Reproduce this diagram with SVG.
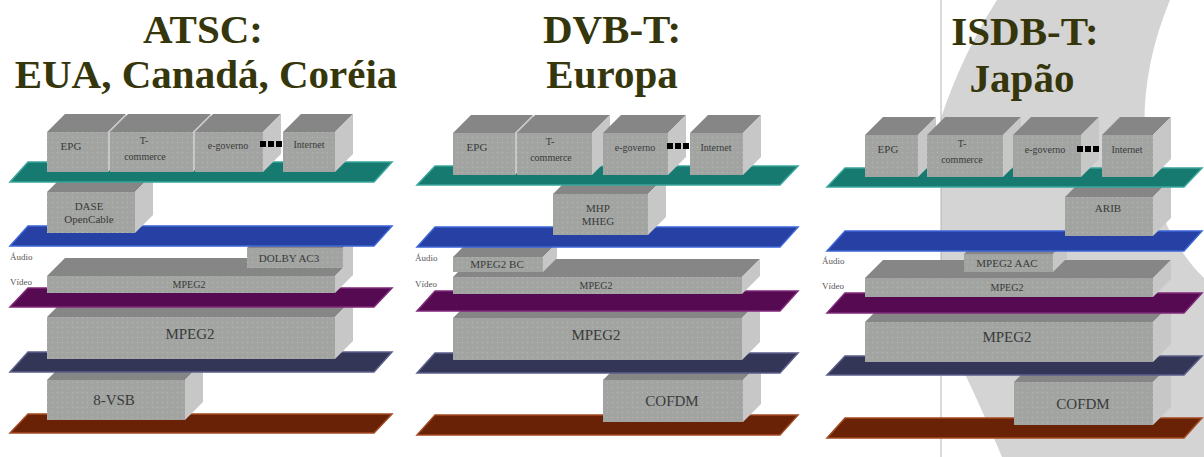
<svg xmlns="http://www.w3.org/2000/svg" width="1204" height="457" viewBox="0 0 1204 457">
<defs>
<pattern id="dots" width="5" height="5" patternUnits="userSpaceOnUse">
<rect width="5" height="5" fill="#a1a4a1"/>
<circle cx="2.5" cy="2.5" r="0.7" fill="#b4b6b4"/>
</pattern>
<style>
.front{fill:url(#dots);}
.top{fill:#858685;}
.side{fill:#c6c7c6;}
.t{font-family:"Liberation Serif","Times New Roman",serif;fill:#3a3a3a;text-anchor:middle;}
.s10{font-size:10px;}
.s11{font-size:11px;}
.s12{font-size:12px;}
.s15{font-size:15px;}
.lbl{font-family:"Liberation Serif","Times New Roman",serif;font-size:9px;fill:#555;}
.title{font-family:"Liberation Serif","Times New Roman",serif;font-weight:bold;font-size:41px;fill:#36360c;text-anchor:middle;}
.teal{fill:#177a70;stroke:#3aa59c;stroke-width:1.5;}
.blue{fill:#2640a4;stroke:#3d66d6;stroke-width:1.5;}
.purple{fill:#560a52;stroke:#7e2a7a;stroke-width:1.5;}
.navy{fill:#343658;stroke:#5c5f8c;stroke-width:1.5;}
.brown{fill:#6a2206;stroke:#a24a22;stroke-width:1.5;}
.dot{fill:#000;}
</style>
</defs>
<rect width="1204" height="457" fill="#ffffff"/>
<g id="watermark">
<path d="M997,0 Q962,55 941,118 L941,325 Q975,392 1002,457 L1204,457 L1204,278 C1150,225 1120,120 1170,0 Z" fill="#d4d4d4"/>
<line x1="941" y1="0" x2="941" y2="457" stroke="#b4b4b4" stroke-width="1"/>
</g>
<g id="titles">
<text class="title" x="203" y="43">ATSC:</text>
<text class="title" x="206" y="88">EUA, Canadá, Coréia</text>
<text class="title" x="612" y="43">DVB-T:</text>
<text class="title" x="612" y="88">Europa</text>
<text class="title" x="1025" y="45">ISDB-T:</text>
<text class="title" x="1022" y="92">Japão</text>
</g>

<g id="atsc">
<g id="atsc-phy"><polygon class="brown" points="28,414 392,414 374,433 10,433"/></g>
<g id="atsc-8vsb"><polygon class="top" points="47,380 65,362 203,362 185,380"/><polygon class="side" points="185,380 203,362 203,402 185,420"/><rect class="front" x="47" y="380" width="138" height="40"/><text class="t s15" x="114" y="405">8-VSB</text></g>
<g id="atsc-trans"><polygon class="navy" points="28,352 392,352 374,372 10,372"/></g>
<g id="atsc-mpeg2"><polygon class="top" points="47,317 65,299 353,299 335,317"/><polygon class="side" points="335,317 353,299 353,341 335,359"/><rect class="front" x="47" y="317" width="288" height="42"/><text class="t s15" x="190" y="339">MPEG2</text></g>
<g id="atsc-comp"><polygon class="purple" points="28,288 392,288 374,307 10,307"/></g>
<g id="atsc-video"><polygon class="top" points="47,276 65,258 353,258 335,276"/><polygon class="side" points="335,276 353,258 353,275 335,293"/><rect class="front" x="47" y="276" width="288" height="17"/><text class="t s10" x="189" y="288">MPEG2</text></g>
<g id="atsc-dolby"><polygon class="top" points="247,248 257,238 353,238 343,248"/><polygon class="side" points="343,248 353,238 353,258 343,268"/><rect class="front" x="247" y="248" width="96" height="20"/><text class="t s11" x="289" y="262">DOLBY AC3</text></g>
<text class="lbl" x="10" y="260">Áudio</text>
<text class="lbl" x="10" y="285">Vídeo</text>
<g id="atsc-mw"><polygon class="blue" points="28,226 392,226 374,246 10,246"/></g>
<g id="atsc-dase"><polygon class="top" points="47,192 65,174 153,174 135,192"/><polygon class="side" points="135,192 153,174 153,215 135,233"/><rect class="front" x="47" y="192" width="88" height="41"/><text class="t s11" x="89" y="210">DASE</text><text class="t s11" x="89" y="223">OpenCable</text></g>
<g id="atsc-app"><polygon class="teal" points="28,162 392,162 374,182 10,182"/></g>
<g id="atsc-epg"><polygon class="top" points="47,132 65,114 126,114 108,132"/><polygon class="side" points="108,132 126,114 126,154 108,172"/><rect class="front" x="47" y="132" width="61" height="40"/><text class="t s11" x="71" y="150">EPG</text></g>
<g id="atsc-tcom"><polygon class="top" points="110,132 128,114 211,114 193,132"/><polygon class="side" points="193,132 211,114 211,154 193,172"/><rect class="front" x="110" y="132" width="83" height="40"/><text class="t s10" x="144" y="144">T-</text><text class="t s10" x="145" y="160">commerce</text></g>
<g id="atsc-egov"><polygon class="top" points="195,132 213,114 281,114 263,132"/><polygon class="side" points="263,132 281,114 281,154 263,172"/><rect class="front" x="195" y="132" width="68" height="40"/><text class="t s10" x="228" y="149">e-governo</text></g>
<g id="atsc-inet"><polygon class="top" points="283,132 301,114 353,114 335,132"/><polygon class="side" points="335,132 353,114 353,154 335,172"/><rect class="front" x="283" y="132" width="52" height="40"/><text class="t s10" x="309" y="148">Internet</text></g>
<g id="atsc-dots"><rect class="dot" x="260" y="141" width="6" height="6"/><rect class="dot" x="268" y="141" width="6" height="6"/><rect class="dot" x="276" y="141" width="6" height="6"/></g>
</g>

<g id="dvbt">
<g id="dvbt-phy"><polygon class="brown" points="435,415 798,415 780,435 417,435"/></g>
<g id="dvbt-cofdm"><polygon class="top" points="603,380 621,362 761,362 743,380"/><polygon class="side" points="743,380 761,362 761,404 743,422"/><rect class="front" x="603" y="380" width="140" height="42"/><text class="t s15" x="672" y="406">COFDM</text></g>
<g id="dvbt-trans"><polygon class="navy" points="435,353 798,353 780,373 417,373"/></g>
<g id="dvbt-mpeg2"><polygon class="top" points="453,318 471,300 760,300 742,318"/><polygon class="side" points="742,318 760,300 760,342 742,360"/><rect class="front" x="453" y="318" width="289" height="42"/><text class="t s15" x="596" y="340">MPEG2</text></g>
<g id="dvbt-comp"><polygon class="purple" points="435,291 798,291 780,311 417,311"/></g>
<g id="dvbt-video"><polygon class="top" points="453,277 471,259 760,259 742,277"/><polygon class="side" points="742,277 760,259 760,276 742,294"/><rect class="front" x="453" y="277" width="289" height="17"/><text class="t s10" x="596" y="289">MPEG2</text></g>
<g id="dvbt-audio"><polygon class="top" points="453,257 467,243 557,243 543,257"/><polygon class="side" points="543,257 557,243 557,258 543,272"/><rect class="front" x="453" y="257" width="90" height="15"/><text class="t s11" x="497" y="268">MPEG2 BC</text></g>
<text class="lbl" x="415" y="261">Áudio</text>
<text class="lbl" x="415" y="287">Vídeo</text>
<g id="dvbt-mw"><polygon class="blue" points="435,227 798,227 780,247 417,247"/></g>
<g id="dvbt-mhp"><polygon class="top" points="553,194 571,176 666,176 648,194"/><polygon class="side" points="648,194 666,176 666,217 648,235"/><rect class="front" x="553" y="194" width="95" height="41"/><text class="t s11" x="598" y="212">MHP</text><text class="t s11" x="598" y="225">MHEG</text></g>
<g id="dvbt-app"><polygon class="teal" points="435,166 798,166 780,185 417,185"/></g>
<g id="dvbt-epg"><polygon class="top" points="453,133 471,115 533,115 515,133"/><polygon class="side" points="515,133 533,115 533,157 515,175"/><rect class="front" x="453" y="133" width="62" height="42"/><text class="t s11" x="477" y="151">EPG</text></g>
<g id="dvbt-tcom"><polygon class="top" points="517,133 535,115 610,115 592,133"/><polygon class="side" points="592,133 610,115 610,157 592,175"/><rect class="front" x="517" y="133" width="75" height="42"/><text class="t s10" x="550" y="145">T-</text><text class="t s10" x="551" y="161">commerce</text></g>
<g id="dvbt-egov"><polygon class="top" points="603,133 621,115 686,115 668,133"/><polygon class="side" points="668,133 686,115 686,157 668,175"/><rect class="front" x="603" y="133" width="65" height="42"/><text class="t s10" x="635" y="151">e-governo</text></g>
<g id="dvbt-inet"><polygon class="top" points="690,133 708,115 761,115 743,133"/><polygon class="side" points="743,133 761,115 761,157 743,175"/><rect class="front" x="690" y="133" width="53" height="42"/><text class="t s10" x="716" y="151">Internet</text></g>
<g id="dvbt-dots"><rect class="dot" x="667" y="143" width="6" height="6"/><rect class="dot" x="675" y="143" width="6" height="6"/><rect class="dot" x="683" y="143" width="6" height="6"/></g>
</g>

<g id="isdbt">
<g id="isdbt-phy"><polygon class="brown" points="845,418 1202,418 1184,438 827,438"/></g>
<g id="isdbt-cofdm"><polygon class="top" points="1014,382 1032,364 1171,364 1153,382"/><polygon class="side" points="1153,382 1171,364 1171,407 1153,425"/><rect class="front" x="1014" y="382" width="139" height="43"/><text class="t s15" x="1083" y="409">COFDM</text></g>
<g id="isdbt-trans"><polygon class="navy" points="845,356 1202,356 1184,375 827,375"/></g>
<g id="isdbt-mpeg2"><polygon class="top" points="865,322 883,304 1171,304 1153,322"/><polygon class="side" points="1153,322 1171,304 1171,344 1153,362"/><rect class="front" x="865" y="322" width="288" height="40"/><text class="t s15" x="1007" y="342">MPEG2</text></g>
<g id="isdbt-comp"><polygon class="purple" points="845,293 1202,293 1184,313 827,313"/></g>
<g id="isdbt-video"><polygon class="top" points="865,278 883,260 1171,260 1153,278"/><polygon class="side" points="1153,278 1171,260 1171,279 1153,297"/><rect class="front" x="865" y="278" width="288" height="19"/><text class="t s10" x="1007" y="291">MPEG2</text></g>
<g id="isdbt-audio"><polygon class="top" points="964,254 978,240 1067,240 1053,254"/><polygon class="side" points="1053,254 1067,240 1067,258 1053,272"/><rect class="front" x="964" y="254" width="89" height="18"/><text class="t s11" x="1007" y="267">MPEG2 AAC</text></g>
<text class="lbl" x="822" y="264">Áudio</text>
<text class="lbl" x="822" y="289">Vídeo</text>
<g id="isdbt-mw"><polygon class="blue" points="845,231 1202,231 1184,251 827,251"/></g>
<g id="isdbt-arib"><polygon class="top" points="1065,197 1083,179 1171,179 1153,197"/><polygon class="side" points="1153,197 1171,179 1171,218 1153,236"/><rect class="front" x="1065" y="197" width="88" height="39"/><text class="t s11" x="1108" y="212">ARIB</text></g>
<g id="isdbt-app"><polygon class="teal" points="845,168 1202,168 1184,187 827,187"/></g>
<g id="isdbt-epg"><polygon class="top" points="865,135 883,117 936,117 918,135"/><polygon class="side" points="918,135 936,117 936,159 918,177"/><rect class="front" x="865" y="135" width="53" height="42"/><text class="t s11" x="888" y="153">EPG</text></g>
<g id="isdbt-tcom"><polygon class="top" points="927,135 945,117 1021,117 1003,135"/><polygon class="side" points="1003,135 1021,117 1021,159 1003,177"/><rect class="front" x="927" y="135" width="76" height="42"/><text class="t s10" x="962" y="147">T-</text><text class="t s10" x="962" y="163">commerce</text></g>
<g id="isdbt-egov"><polygon class="top" points="1013,135 1031,117 1099,117 1081,135"/><polygon class="side" points="1081,135 1099,117 1099,159 1081,177"/><rect class="front" x="1013" y="135" width="68" height="42"/><text class="t s10" x="1045" y="153">e-governo</text></g>
<g id="isdbt-inet"><polygon class="top" points="1102,135 1120,117 1171,117 1153,135"/><polygon class="side" points="1153,135 1171,117 1171,159 1153,177"/><rect class="front" x="1102" y="135" width="51" height="42"/><text class="t s10" x="1127" y="153">Internet</text></g>
<g id="isdbt-dots"><rect class="dot" x="1077" y="146" width="6" height="6"/><rect class="dot" x="1085" y="146" width="6" height="6"/><rect class="dot" x="1093" y="146" width="6" height="6"/></g>
</g>
<g id="connectors"/>
</svg>
